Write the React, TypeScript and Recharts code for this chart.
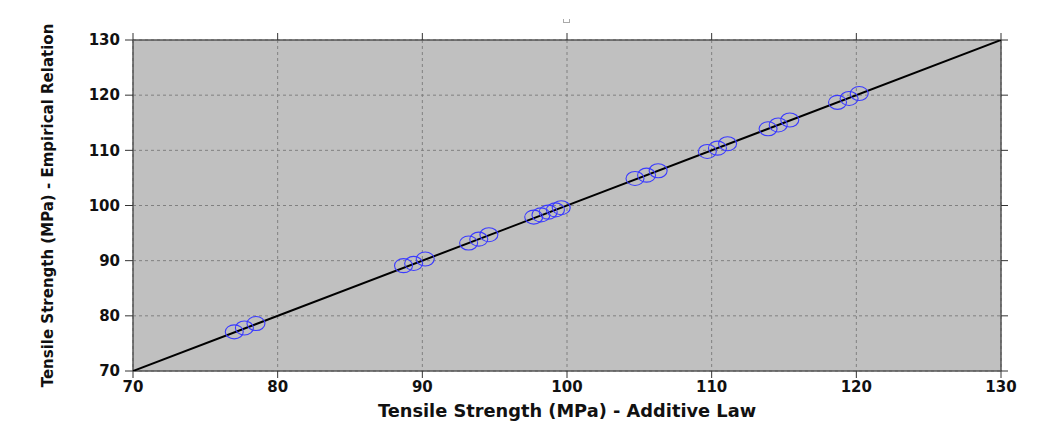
import React from "react";
import { ScatterChart, Scatter, XAxis, YAxis, CartesianGrid, Label } from "recharts";

const additiveLaw = [
  77.0, 77.7, 78.5,
  88.7, 89.4, 90.2,
  93.2, 93.9, 94.6,
  97.7, 98.2, 98.7, 99.2, 99.6,
  104.7, 105.5, 106.3,
  109.7, 110.4, 111.1,
  113.9, 114.6, 115.4,
  118.7, 119.5, 120.2,
];
const empirical = [
  77.1, 77.8, 78.6,
  89.1, 89.5, 90.3,
  93.2, 93.9, 94.7,
  97.9, 98.3, 98.8, 99.2, 99.6,
  104.9, 105.5, 106.3,
  109.8, 110.4, 111.2,
  113.9, 114.6, 115.5,
  118.7, 119.4, 120.3,
];
const fitX = [70, 130];
const fitY = [70, 130];
const ticks = [70, 80, 90, 100, 110, 120, 130];
const xTitle = "Tensile Strength (MPa) - Additive Law";
const yTitle = "Tensile Strength (MPa) - Empirical Relation";

const points = additiveLaw.map((x, i) => ({ x, y: empirical[i] }));
const fitLine = fitX.map((x, i) => ({ x, y: fitY[i] }));

const FONT = "'DejaVu Sans', Verdana, sans-serif";
const tickStyle = { fontFamily: FONT, fontWeight: 700, fontSize: 15, fill: "#111" };
const axisLine = { stroke: "#555", strokeWidth: 1.5 };
const tickLine = { stroke: "#333", strokeWidth: 1 };
const noTick = () => <g />;

const Ellipse = (props: any) => {
  const { cx, cy } = props;
  if (cx == null || cy == null) return <g />;
  return <ellipse cx={cx} cy={cy} rx={9} ry={7} fill="none" stroke="#3a3aff" strokeWidth={1.1} />;
};

export default function App() {
  return (
    <div style={{ position: "relative", width: 1042, height: 434, margin: -8, background: "#fff", overflow: "hidden" }}>
      <div style={{ position: "absolute", left: 0, top: 0 }}>
        <ScatterChart width={1042} height={434} margin={{ top: 30, right: 31, bottom: 23, left: 73 }}>
          <CartesianGrid fill="#c0c0c0" stroke="#808080" strokeDasharray="3 3" xAxisId="b" yAxisId="l" />
          <XAxis xAxisId="b" type="number" dataKey="x" domain={[70, 130]} ticks={ticks} height={40}
            allowDataOverflow axisLine={axisLine} tickLine={tickLine} tickSize={7} tickMargin={3} tick={tickStyle}>
            <Label value={xTitle} position="insideBottom" offset={-6}
              style={{ fontFamily: FONT, fontWeight: 700, fontSize: 17.8, fill: "#111" }} />
          </XAxis>
          <XAxis xAxisId="t" orientation="top" type="number" dataKey="x" domain={[70, 130]} ticks={ticks} height={10}
            allowDataOverflow axisLine={axisLine} tickLine={tickLine} tickSize={7} tick={noTick} />
          <YAxis yAxisId="l" type="number" dataKey="y" domain={[70, 130]} ticks={ticks} width={60}
            allowDataOverflow axisLine={axisLine} tickLine={tickLine} tickSize={8} tickMargin={5} tick={tickStyle}>
            <Label
              content={(p: any) => {
                const vb = p.viewBox || {};
                const cx = 48;
                const cy = (vb.y ?? 40) + (vb.height ?? 331) / 2;
                return (
                  <text x={cx} y={cy} transform={`rotate(-90, ${cx}, ${cy})`} textAnchor="middle" dominantBaseline="central"
                    style={{ fontFamily: FONT, fontWeight: 700, fontSize: 15, fill: "#111" }}>
                    {yTitle}
                  </text>
                );
              }}
            />
          </YAxis>
          <YAxis yAxisId="r" orientation="right" type="number" dataKey="y" domain={[70, 130]} ticks={ticks} width={10}
            allowDataOverflow axisLine={axisLine} tickLine={tickLine} tickSize={7} tick={noTick} />
          <Scatter data={fitLine} xAxisId="b" yAxisId="l" line={{ stroke: "#000", strokeWidth: 2 }} shape={() => <g />}
            isAnimationActive={false} />
          <Scatter data={points} xAxisId="b" yAxisId="l" shape={Ellipse} isAnimationActive={false} />
        </ScatterChart>
      </div>
      <div style={{ position: "absolute", zIndex: 5, left: 5, top: 5, width: 1042, height: 2, background: "#6e6e6e" }} />
      <div style={{ position: "absolute", zIndex: 5, left: 5, top: 5, width: 2, height: 434, background: "#6e6e6e" }} />
      <div style={{ position: "absolute", zIndex: 5, left: 563, top: 19, width: 5, height: 3, borderLeft: "1px solid #aaa", borderRight: "1px solid #aaa", borderBottom: "1px solid #aaa" }} />
    </div>
  );
}
